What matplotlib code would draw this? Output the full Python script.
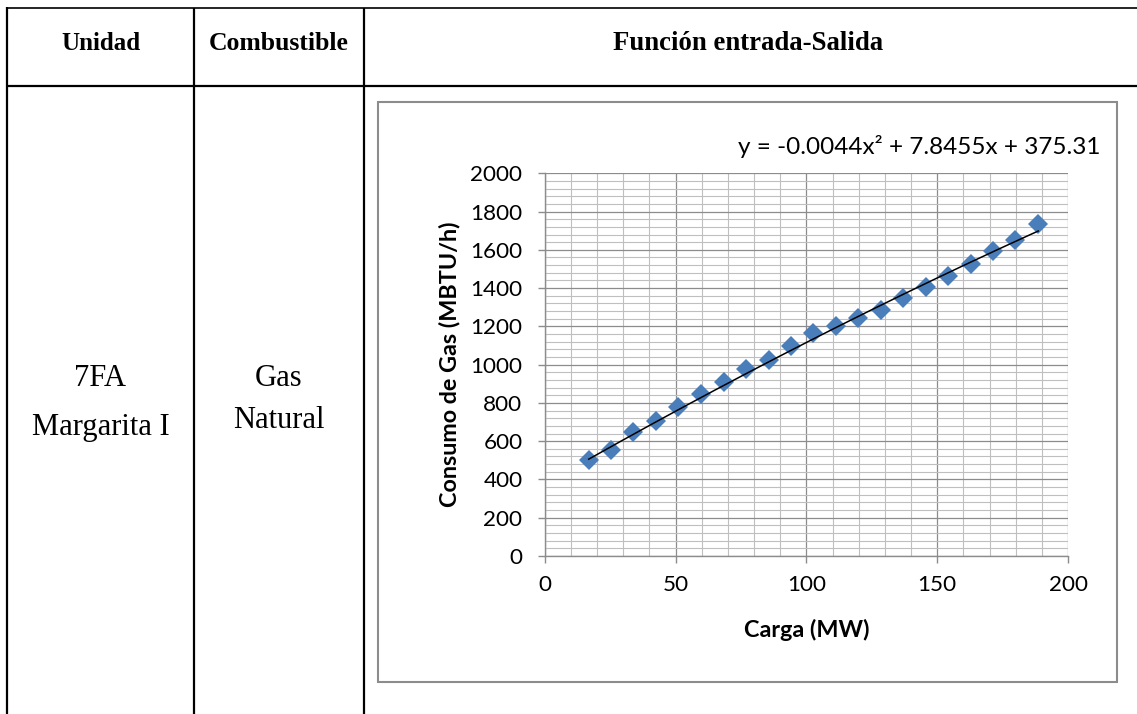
import matplotlib
matplotlib.use('Agg')
import matplotlib.pyplot as plt
import numpy as np
from matplotlib.patches import Rectangle
from matplotlib.ticker import MultipleLocator

# ---------------- data ----------------
carga_mw = [16.8, 25.3, 33.8, 42.5, 51.1, 59.7, 68.4, 77.0, 85.6, 94.2, 102.7,
            111.4, 119.8, 128.5, 137.0, 145.6, 154.2, 162.8, 171.4, 179.7, 188.6]
consumo_gas = [502, 552, 648, 706, 779, 849, 909, 977, 1023, 1095, 1165,
               1203, 1242, 1288, 1349, 1407, 1462, 1527, 1593, 1654, 1736]
trend_coefs = [-0.0044, 7.8455, 375.31]
equation_label = "y = -0.0044x² + 7.8455x + 375.31"

headers = ["Unidad", "Combustible", "Función entrada-Salida"]
unidad_lines = ["7FA", "Margarita I"]
combustible_lines = ["Gas", "Natural"]
x_label = "Carga (MW)"
y_label = "Consumo de Gas (MBTU/h)"

# ---------------- figure ----------------
W, H = 1137, 714
fig = plt.figure(figsize=(W / 100, H / 100), dpi=100)
fig.patch.set_facecolor('white')

bg = fig.add_axes([0, 0, 1, 1])
bg.set_xlim(0, W)
bg.set_ylim(H, 0)
bg.axis('off')

serif = 'Liberation Serif'
sans = 'Lato'

# table lines
bg.plot([7, 7], [7, H], color='black', lw=1.6, solid_capstyle='butt')
bg.plot([194, 194], [8, H], color='black', lw=1.6, solid_capstyle='butt')
bg.plot([364, 364], [8, H], color='black', lw=1.6, solid_capstyle='butt')
bg.plot([6, W], [8, 8], color='black', lw=1.2, solid_capstyle='butt')
bg.plot([6, W], [86, 86], color='black', lw=1.6, solid_capstyle='butt')

# header texts
hdr_x = [100.5, 279, 748]
hdr_size = [18, 18.5, 19.3]
for hx, hs, txt in zip(hdr_x, hdr_size, headers):
    bg.text(hx, 43, txt, ha='center', va='center', fontsize=hs,
            fontweight='bold', family=serif)

body = 22
bg.text(100.5, 378, unidad_lines[0], ha='center', va='center', fontsize=body, family=serif)
bg.text(100.5, 427, unidad_lines[1], ha='center', va='center', fontsize=body, family=serif)
bg.text(279, 378, combustible_lines[0], ha='center', va='center', fontsize=body, family=serif)
bg.text(279, 420, combustible_lines[1], ha='center', va='center', fontsize=body, family=serif)

# chart box
bg.add_patch(Rectangle((378, 102), 1117 - 378, 682 - 102, facecolor='white',
                       edgecolor='#8C8C8C', lw=1.5))

# equation text
bg.text(1101, 147, equation_label, ha='right', va='center', fontsize=17.5, family=sans)

# ---------------- plot axes ----------------
x0, x1 = 544.7, 1068.1
ytop, ybot = 173.3, 556.0
ax = fig.add_axes([x0 / W, 1 - ybot / H, (x1 - x0) / W, (ybot - ytop) / H])
ax.set_xlim(0, 200)
ax.set_ylim(0, 2000)
ax.set_facecolor('white')

ax.xaxis.set_major_locator(MultipleLocator(50))
ax.xaxis.set_minor_locator(MultipleLocator(10))
ax.yaxis.set_major_locator(MultipleLocator(200))
ax.yaxis.set_minor_locator(MultipleLocator(40))

ax.grid(which='minor', color='#BFBFBF', lw=0.8)
ax.grid(which='major', color='#8C8C8C', lw=0.9)
ax.set_axisbelow(True)

for s in ['top', 'right']:
    ax.spines[s].set_visible(False)
for s in ['left', 'bottom']:
    ax.spines[s].set_color('#8C8C8C')
    ax.spines[s].set_linewidth(1.0)

ax.tick_params(which='major', direction='out', length=5, width=1.0, color='#8C8C8C',
               labelsize=16.2, labelcolor='black')
ax.tick_params(axis='y', which='major', pad=11)
ax.tick_params(axis='x', which='major', pad=9)
ax.tick_params(which='minor', length=0)
for lab in ax.get_xticklabels() + ax.get_yticklabels():
    lab.set_family(sans)

# trend line
xs = np.linspace(min(carga_mw), max(carga_mw), 200)
ax.plot(xs, np.polyval(trend_coefs, xs), color='black', lw=1.1, zorder=4)

# data points
ax.plot(carga_mw, consumo_gas, linestyle='none', marker='D', markersize=10,
        color='#4A7EBB', markeredgewidth=0, zorder=3)

ax.set_xlabel(x_label, fontsize=16.8, fontweight='bold', family=sans, labelpad=17)
ax.set_ylabel(y_label, fontsize=16.8, fontweight='bold', family=sans, labelpad=7)

fig.savefig('out.png', dpi=100, facecolor='white')
